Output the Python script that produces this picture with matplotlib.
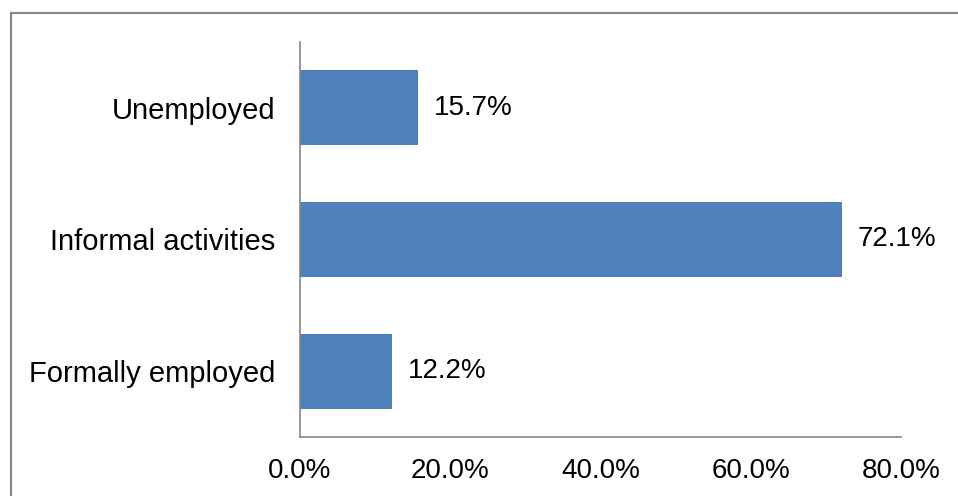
import matplotlib
matplotlib.use('Agg')
import matplotlib.pyplot as plt
from matplotlib.lines import Line2D

plt.rcParams['font.family'] = ['Liberation Sans', 'DejaVu Sans']

# data
categories = ['Formally employed', 'Informal activities', 'Unemployed']
values = [12.2, 72.1, 15.7]
xticks = [0, 20, 40, 60, 80]

fig = plt.figure(figsize=(9.58, 4.96), dpi=100)
ax = fig.add_axes([0.3132, 0.119, 0.6273, 0.7963])

ax.barh(range(len(categories)), values, height=0.57, color='#4F81BD')
for i, v in enumerate(values):
    ax.text(v + 2.1, i, f'{v:.1f}%', va='center', ha='left', fontsize=20)

ax.set_xlim(0, 80)
ax.set_ylim(-0.5, 2.5)
ax.set_yticks(range(len(categories)))
ax.set_yticklabels(categories, fontsize=21)
ax.set_xticks(xticks)
ax.set_xticklabels([f'{t:.1f}%' for t in xticks], fontsize=20)
ax.tick_params(axis='y', length=0, pad=18)
ax.tick_params(axis='x', length=0, pad=15)

for s in ['top', 'right']:
    ax.spines[s].set_visible(False)
for s in ['left', 'bottom']:
    ax.spines[s].set_color('#868686')
    ax.spines[s].set_linewidth(1.2)

# outer chart border (top and left only visible)
bx = 10.5 / 958
by = 1 - 12.5 / 496
fig.add_artist(Line2D([bx, 1.01], [by, by], transform=fig.transFigure, color='#868686', lw=1.5))
fig.add_artist(Line2D([bx, bx], [by, -0.01], transform=fig.transFigure, color='#868686', lw=1.5))

fig.savefig('out.png', dpi=100)
